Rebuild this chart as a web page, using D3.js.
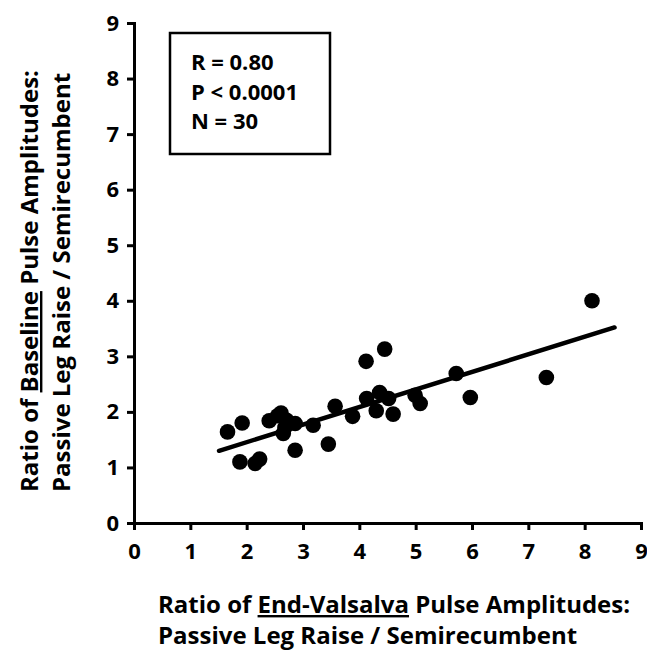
<!DOCTYPE html>
<html>
<head>
<meta charset="utf-8">
<script src="https://cdn.jsdelivr.net/npm/d3@7"></script>
<style>
  body { margin: 0; background: #fff; }
  text { font-family: "Open Sans", sans-serif; font-weight: bold; fill: #000; }
</style>
</head>
<body>
<div id="chart"></div>
<script>
// end-valsalva ratio (x) vs baseline ratio (y)
const xValues = [1.66, 1.92, 1.88, 2.15, 2.23, 2.40, 2.61, 2.65, 2.71, 2.86,
                 2.86, 3.18, 3.45, 3.57, 3.88, 4.12, 4.13, 4.30, 4.36, 4.45,
                 4.52, 4.60, 4.99, 5.08, 5.72, 5.97, 7.32, 8.13, 2.55, 2.68];
const yValues = [1.64, 1.80, 1.10, 1.07, 1.15, 1.84, 1.98, 1.61, 1.85, 1.79,
                 1.31, 1.76, 1.42, 2.10, 1.92, 2.91, 2.24, 2.02, 2.35, 3.13,
                 2.24, 1.96, 2.30, 2.15, 2.69, 2.26, 2.62, 4.00, 1.93, 1.72];
// fitted line end points
const fitX = [1.51, 8.53];
const fitY = [1.30, 3.52];
const xTicks = [0, 1, 2, 3, 4, 5, 6, 7, 8, 9];
const yTicks = [0, 1, 2, 3, 4, 5, 6, 7, 8, 9];
const statLines = ["R = 0.80", "P < 0.0001", "N = 30"];

const width = 647, height = 650;
const plotLeft = 134, plotRight = 641, plotTop = 23, plotBottom = 523;

const svg = d3.select("#chart").append("svg")
    .attr("width", width)
    .attr("height", height);

const x = d3.scaleLinear().domain([0, 9]).range([plotLeft, plotRight]);
const y = d3.scaleLinear().domain([0, 9]).range([plotBottom, plotTop]);

// axes
const xAxis = svg.append("g")
    .attr("transform", `translate(0,${plotBottom})`)
    .call(d3.axisBottom(x).tickValues(xTicks).tickSize(7).tickPadding(13));
const yAxis = svg.append("g")
    .attr("transform", `translate(${plotLeft},0)`)
    .call(d3.axisLeft(y).tickValues(yTicks).tickSize(7).tickPadding(8));

[xAxis, yAxis].forEach(a => {
    a.select(".domain").attr("stroke", "#000").attr("stroke-width", 3);
    a.selectAll(".tick line").attr("stroke", "#000").attr("stroke-width", 3);
    a.selectAll(".tick text")
        .style("font-family", "'Open Sans', sans-serif")
        .style("font-weight", "bold")
        .style("font-size", "22px")
        .attr("fill", "#000");
});

// fit line
svg.append("line")
    .attr("x1", x(fitX[0])).attr("y1", y(fitY[0]))
    .attr("x2", x(fitX[1])).attr("y2", y(fitY[1]))
    .attr("stroke", "#000")
    .attr("stroke-width", 4.5)
    .attr("stroke-linecap", "round");

// points
svg.append("g")
    .selectAll("circle")
    .data(xValues.map((v, i) => [v, yValues[i]]))
    .enter().append("circle")
    .attr("cx", d => x(d[0]))
    .attr("cy", d => y(d[1]))
    .attr("r", 7.8)
    .attr("fill", "#000");

// stats box
svg.append("rect")
    .attr("x", 170).attr("y", 33)
    .attr("width", 160).attr("height", 121)
    .attr("fill", "none")
    .attr("stroke", "#000")
    .attr("stroke-width", 2.5);

svg.append("g")
    .selectAll("text")
    .data(statLines)
    .enter().append("text")
    .attr("x", 191)
    .attr("y", (d, i) => 70 + i * 29.5)
    .style("font-size", "22px")
    .text(d => d);

// x title
const xt = svg.append("text")
    .attr("x", 158).attr("y", 613)
    .style("font-size", "24px");
xt.append("tspan").text("Ratio of ");
xt.append("tspan").style("text-decoration", "underline").text("End-Valsalva");
xt.append("tspan").text(" Pulse Amplitudes:");
svg.append("text")
    .attr("x", 158).attr("y", 644)
    .style("font-size", "24px")
    .text("Passive Leg Raise / Semirecumbent");

// y title
const yt = svg.append("text")
    .attr("transform", "translate(38,492) rotate(-90)")
    .style("font-size", "24px");
yt.append("tspan").text("Ratio of ");
yt.append("tspan").style("text-decoration", "underline").text("Baseline");
yt.append("tspan").text(" Pulse Amplitudes:");
svg.append("text")
    .attr("transform", "translate(70,492) rotate(-90)")
    .style("font-size", "24px")
    .text("Passive Leg Raise / Semirecumbent");
</script>
</body>
</html>
